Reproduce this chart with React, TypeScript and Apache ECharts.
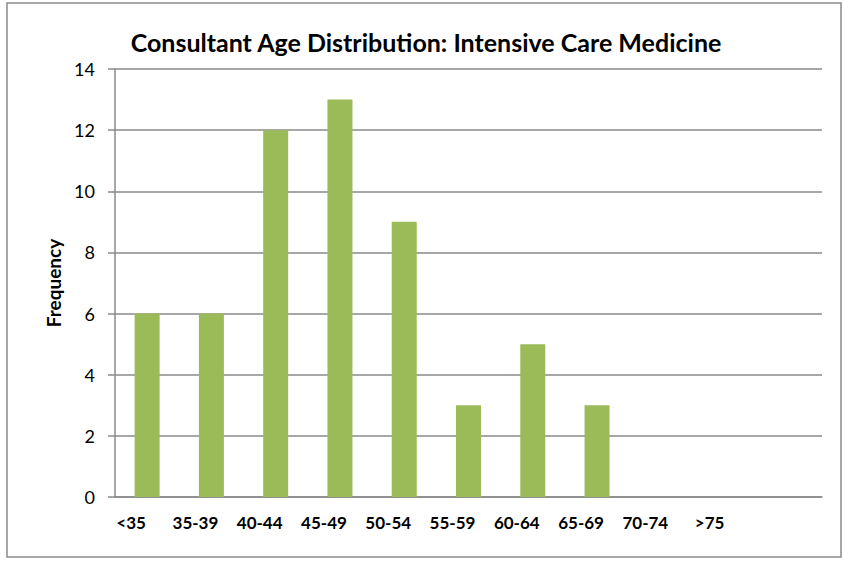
import React, { useEffect, useRef } from "react";
import * as echarts from "echarts";

const categories = ["<35", "35-39", "40-44", "45-49", "50-54", "55-59", "60-64", "65-69", "70-74", ">75", ""];
const frequency = [6, 6, 12, 13, 9, 3, 5, 3, 0, 0, null];
const titleText = "Consultant Age Distribution: Intensive Care Medicine";
const FONT = "Lato, 'Open Sans', sans-serif";

export default function App() {
  const ref = useRef<HTMLDivElement>(null);
  useEffect(() => {
    document.body.style.margin = "0";
    const chart = echarts.init(ref.current!, null, { renderer: "svg" });
    chart.setOption({
      animation: false,
      backgroundColor: "#ffffff",
      graphic: [
        {
          type: "rect",
          shape: { x: 7, y: 3, width: 834, height: 554 },
          style: { fill: "none", stroke: "#8c8c8c", lineWidth: 1.5 },
          z: -1,
        },
        {
          type: "text",
          x: 426,
          y: 42,
          style: {
            text: titleText,
            align: "center",
            verticalAlign: "middle",
            fontFamily: FONT,
            fontSize: 25,
            fontWeight: "bold",
            fill: "#000",
          },
        },
      ],
      grid: { left: 115, right: 21, top: 69, bottom: 65 },
      xAxis: {
        type: "category",
        data: categories,
        axisLine: { show: true, lineStyle: { color: "#8a8a8a", width: 1.5 } },
        axisTick: { show: false },
        axisLabel: {
          interval: 0,
          margin: 17,
          formatter: (v: string) => (v ? `{a|${v}}` : ""),
          rich: {
            a: {
              fontFamily: FONT,
              fontSize: 17,
              fontWeight: "bold",
              color: "#000",
              padding: [0, 32, 0, 0],
            },
          },
        },
      },
      yAxis: {
        type: "value",
        min: 0,
        max: 14,
        interval: 2,
        name: "Frequency",
        nameLocation: "middle",
        nameGap: 52,
        nameRotate: 90,
        nameTextStyle: { fontFamily: FONT, fontSize: 19, fontWeight: "bold", color: "#000" },
        axisLine: { show: true, lineStyle: { color: "#8a8a8a", width: 1.5 } },
        axisTick: { show: true, length: 7, lineStyle: { color: "#8a8a8a", width: 1.5 } },
        axisLabel: { margin: 20, fontFamily: FONT, fontSize: 18, color: "#000" },
        splitLine: { show: true, lineStyle: { color: "#8a8a8a", width: 1.5 } },
      },
      series: [
        {
          type: "bar",
          data: frequency,
          barWidth: 25,
          itemStyle: { color: "#9bbb59" },
        },
      ],
    });
    return () => chart.dispose();
  }, []);
  return <div ref={ref} style={{ width: 843, height: 562 }} />;
}
